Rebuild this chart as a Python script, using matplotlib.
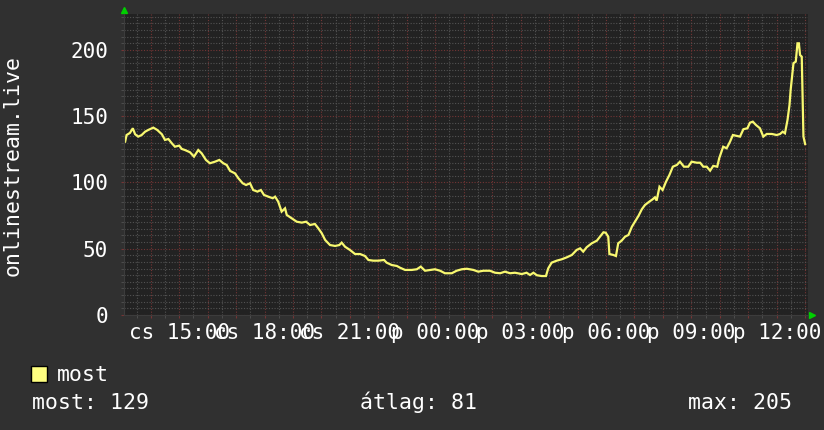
import matplotlib
matplotlib.use("Agg")
import matplotlib.pyplot as plt
from matplotlib.patches import Rectangle

# hours counted from the first day's midnight (24 = p 00:00)
hours = [13.10, 13.15, 13.27, 13.37, 13.45, 13.56, 13.68, 13.80, 13.91, 14.09,
         14.23, 14.39, 14.50, 14.62, 14.74, 14.85, 15.00, 15.09, 15.20, 15.38,
         15.52, 15.67, 15.79, 15.94, 16.08, 16.26, 16.41, 16.55, 16.67, 16.79,
         16.96, 17.08, 17.23, 17.35, 17.49, 17.60, 17.75, 17.87, 17.98, 18.13,
         18.29, 18.37, 18.48, 18.60, 18.72, 18.78, 18.95, 19.13, 19.31, 19.46,
         19.60, 19.77, 19.89, 20.01, 20.13, 20.30, 20.48, 20.63, 20.71, 20.83,
         21.00, 21.18, 21.36, 21.53, 21.65, 21.82, 22.00, 22.20, 22.29, 22.47,
         22.65, 22.76, 22.94, 23.17, 23.35, 23.49, 23.64, 23.82, 23.99, 24.17,
         24.34, 24.58, 24.75, 24.93, 25.11, 25.34, 25.51, 25.69, 25.92, 26.10,
         26.28, 26.45, 26.63, 26.80, 27.04, 27.21, 27.33, 27.45, 27.57, 27.74,
         27.89, 27.97, 28.09, 28.27, 28.44, 28.62, 28.80, 28.97, 29.09, 29.20,
         29.32, 29.50, 29.68, 29.79, 29.91, 29.99, 30.08, 30.12, 30.26, 30.35,
         30.43, 30.55, 30.67, 30.79, 30.91, 31.02, 31.14, 31.26, 31.37, 31.52,
         31.64, 31.72, 31.78, 31.88, 31.99, 32.11, 32.23, 32.35, 32.49, 32.60,
         32.74, 32.89, 33.01, 33.19, 33.31, 33.42, 33.54, 33.66, 33.77, 33.91,
         33.98, 34.12, 34.24, 34.36, 34.46, 34.60, 34.71, 34.83, 34.97, 35.06,
         35.16, 35.27, 35.41, 35.53, 35.65, 35.83, 36.00, 36.12, 36.21, 36.29,
         36.38, 36.45, 36.49, 36.59, 36.67, 36.73, 36.78, 36.82, 36.88, 36.94,
         37.00]
viewers = [130.8, 135.8, 137.4, 140.9, 136.4, 134.6, 135.8, 138.3, 139.6, 141.4,
           139.6, 136.4, 132.1, 132.8, 129.6, 127.0, 127.8, 125.3, 124.5, 122.8,
           119.5, 124.5, 122.0, 117.0, 114.5, 115.7, 117.0, 114.5, 113.2, 108.7,
           106.9, 103.2, 99.4, 98.1, 99.4, 94.3, 93.1, 94.3, 90.6, 89.3,
           88.1, 89.3, 85.5, 78.0, 80.5, 75.5, 73.0, 70.4, 69.7, 70.4,
           67.9, 68.7, 65.4, 61.7, 56.6, 52.8, 52.1, 52.8, 54.6, 51.5,
           49.1, 46.0, 46.0, 44.5, 41.5, 41.0, 41.0, 41.5, 39.5, 37.7,
           37.0, 35.7, 34.0, 34.0, 34.5, 36.5, 33.4, 34.0, 34.5, 33.4,
           31.5, 31.5, 33.4, 34.5, 34.9, 34.0, 32.7, 33.4, 33.4, 31.9,
           31.5, 32.7, 31.5, 31.9, 30.9, 31.9, 30.2, 31.9, 30.0, 29.4,
           29.4, 35.2, 39.5, 41.0, 42.0, 43.5, 45.3, 49.1, 50.3, 47.8,
           51.1, 54.1, 56.1, 59.1, 62.4, 62.1, 59.1, 46.0, 45.3, 44.5,
           54.1, 56.1, 59.1, 60.4, 66.6, 70.4, 74.7, 79.8, 83.0, 85.5,
           87.3, 88.8, 86.3, 96.8, 94.3, 100.6, 105.7, 111.9, 113.2, 115.7,
           111.9, 111.9, 115.7, 114.9, 114.9, 111.9, 111.9, 108.9, 112.5, 111.9,
           118.3, 127.0, 125.8, 130.8, 135.8, 135.1, 134.6, 140.2, 140.9, 145.1,
           145.9, 143.4, 140.9, 134.6, 136.6, 136.6, 135.8, 136.6, 138.3, 137.1,
           147.2, 158.5, 169.8, 190.0, 191.2, 205.0, 205.0, 196.2, 194.9, 134.6,
           129.0]

x_label_hours = [15, 18, 21, 24, 27, 30, 33, 36]
x_labels = ["cs 15:00", "cs 18:00", "cs 21:00", "p 00:00",
            "p 03:00", "p 06:00", "p 09:00", "p 12:00"]
y_ticks = [0, 50, 100, 150, 200]
y_title = "onlinestream.live"
legend_name = "most"
stat_texts = ["most: 129", "átlag: 81", "max: 205"]

W, H = 824, 430
def fx(px):
    return px / W
def fy(py):
    return 1 - py / H

plt.rcParams["font.family"] = ["DejaVu Sans Mono"]

fig = plt.figure(figsize=(W / 100, H / 100), dpi=100, facecolor="#303030")
ax = fig.add_axes([fx(124), fy(315), fx(808) - fx(124), fy(13.5) - fy(315)])
ax.set_facecolor("#222222")
ax.set_xlim(13.06, 37.1)
ax.set_ylim(0, 227.5)

# grid: red every hour / 50, grey every half hour / 5
major_x = list(range(14, 38))
ax.set_xticks(major_x)
ax.set_xticklabels([x_labels[x_label_hours.index(h)] if h in x_label_hours else "" for h in major_x])
ax.set_xticks([h + 0.5 for h in range(13, 37)], minor=True)
ax.set_yticks(y_ticks)
ax.set_yticks([v for v in range(5, 228, 5) if v % 50], minor=True)
ax.set_axisbelow(True)
ax.grid(which="minor", color="#525252", linestyle=(0, (1, 1.5)), linewidth=0.8)
ax.grid(which="major", color="#743535", linestyle=(0, (1, 1.5)), linewidth=0.8)

ax.tick_params(which="both", length=2, colors="#ffffff", labelsize=15)
ax.tick_params(axis="x", which="major", color="#743535", pad=4)
ax.tick_params(axis="y", which="major", color="#743535", pad=9.5)
ax.tick_params(which="minor", color="#525252")
for s in ["top", "right"]:
    ax.spines[s].set_visible(False)
ax.spines["left"].set_color("#3c3c3c")
ax.spines["bottom"].set_color("#3c3c3c")

ax.plot(hours, viewers, color="#f8f870", linewidth=1.6, solid_joinstyle="miter")

# little green arrows at the axis ends
ax.plot([0], [1.012], marker="^", color="#00d000", markersize=4, transform=ax.transAxes, clip_on=False)
ax.plot([1.006], [0], marker=">", color="#00d000", markersize=4, transform=ax.transAxes, clip_on=False)

fig.text(fx(13), fy(166), y_title, rotation=90, ha="center", va="center",
         color="#ffffff", fontsize=15.5)

fig.add_artist(Rectangle((fx(31.5), fy(381.5)), 16 / W, 16 / H, transform=fig.transFigure,
                         facecolor="#ffff80", edgecolor="#000000", linewidth=1))
fig.text(fx(57), fy(381), legend_name, color="#ffffff", fontsize=15.5, va="baseline")
for x, t in zip([32, 360, 688], stat_texts):
    fig.text(fx(x), fy(409), t, color="#ffffff", fontsize=15.5, va="baseline")

fig.savefig("out.png", dpi=100, facecolor=fig.get_facecolor())
